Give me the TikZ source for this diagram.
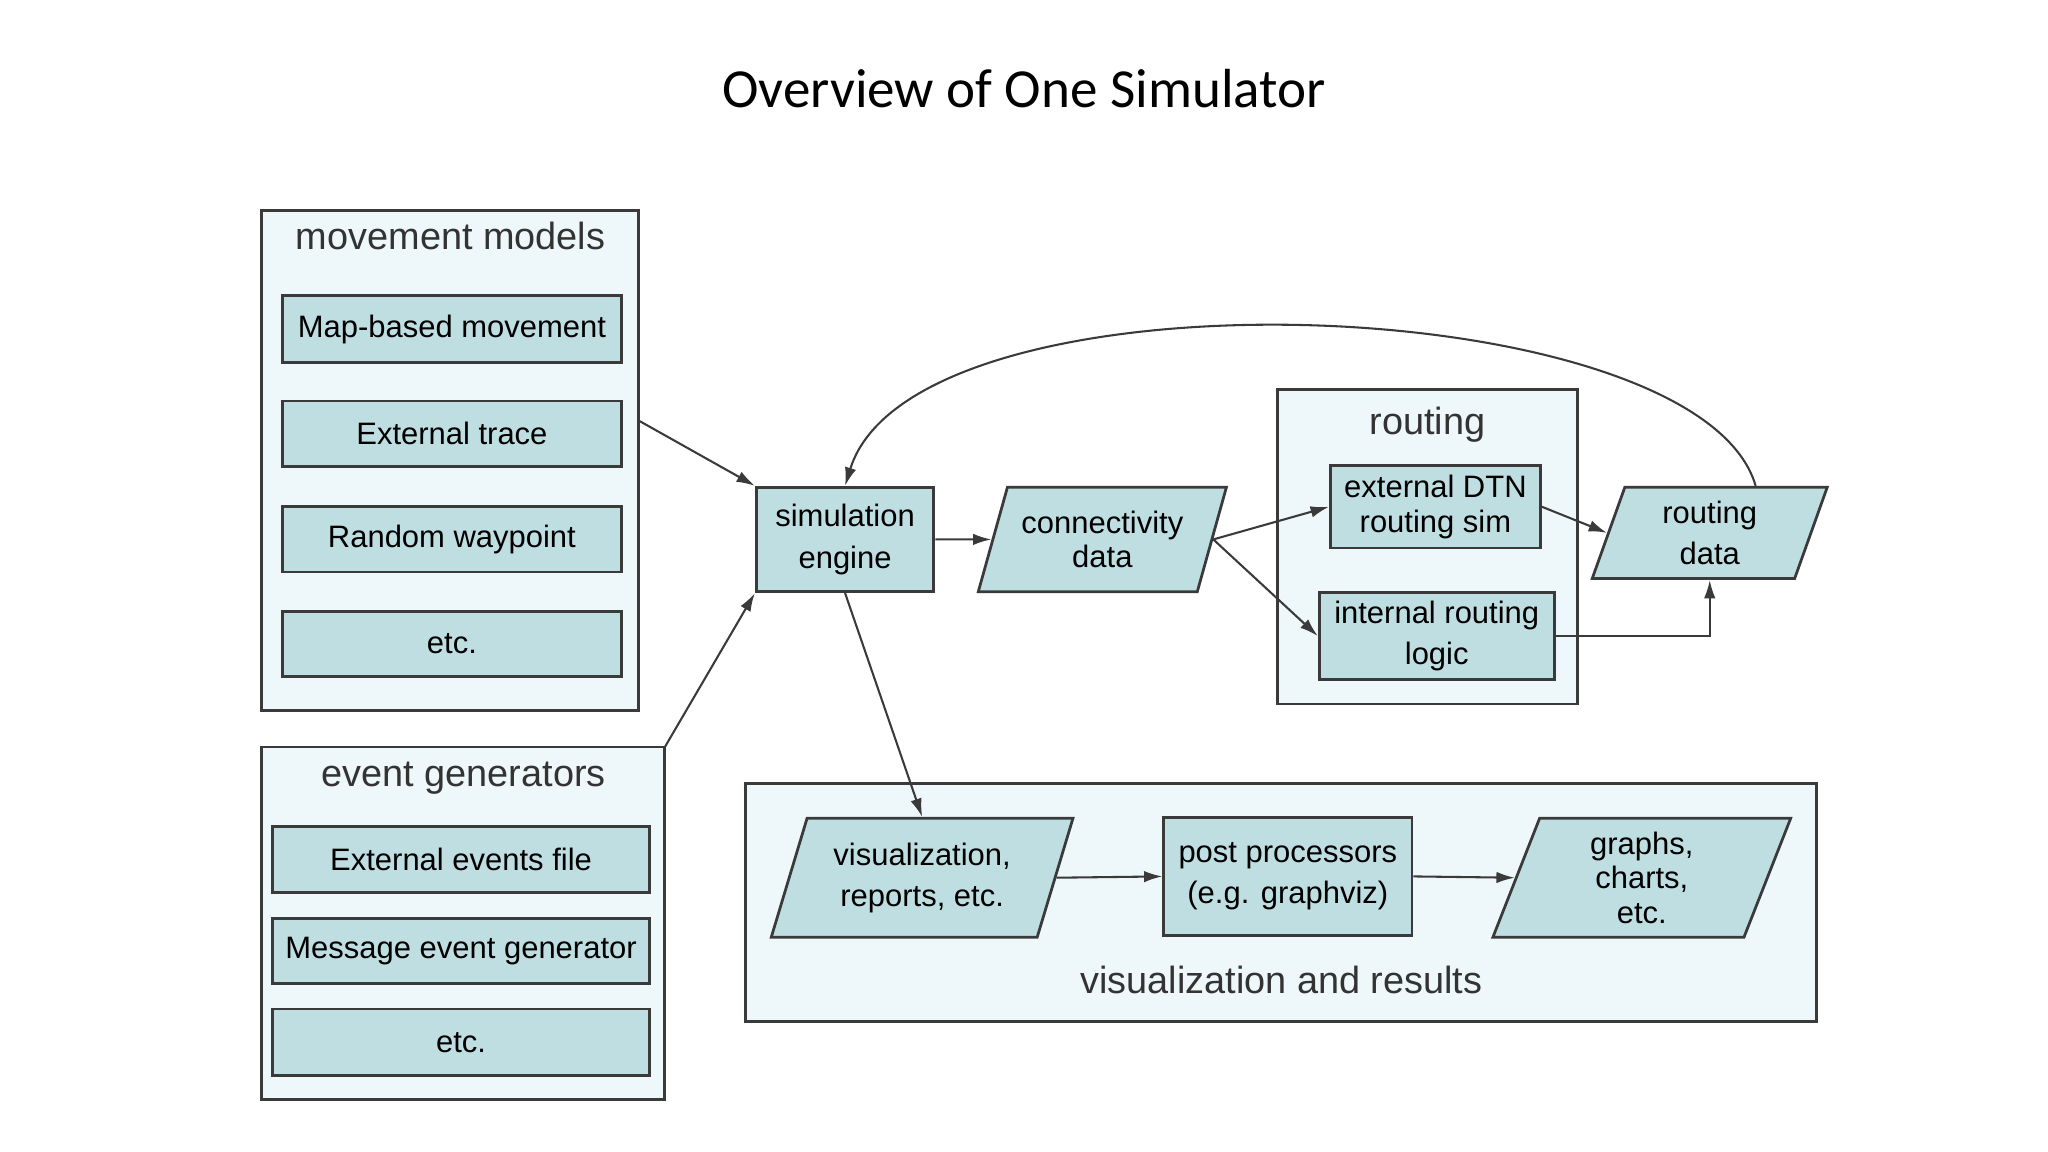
\documentclass[tikz,border=0pt]{standalone}
\usepackage{fontspec}
\setmainfont{Liberation Sans}
\newfontfamily\titlefont{Carlito}
\usetikzlibrary{shapes.geometric,arrows.meta}
\definecolor{boxfill}{HTML}{BFDEE2}
\definecolor{contfill}{HTML}{EEF7F9}
\definecolor{edgec}{HTML}{3A3A3A}
\begin{document}
\begin{tikzpicture}[x=0.02cm,y=-0.02cm,
  cont/.style={draw=edgec,line width=1.2pt,fill=contfill},
  box/.style={draw=edgec,line width=1.2pt,fill=boxfill,font=\fontsize{13.5}{15}\selectfont,align=center,inner sep=0pt},
  para/.style={trapezium,trapezium left angle=63,trapezium right angle=117,draw=edgec,line width=1.2pt,fill=boxfill,font=\fontsize{13.5}{15}\selectfont,align=center,inner sep=0pt,trapezium stretches body},
  head/.style={font=\fontsize{16.5}{18}\selectfont,text=black!80},
  arr/.style={-{Latex[length=8pt,width=5pt]},line width=0.9pt,draw=edgec}]
\useasboundingbox (0,0) rectangle (1568,882);
\node[font=\titlefont\fontsize{24}{28}\selectfont] (title) at (784,68) {Overview of One Simulator};
% movement models
\draw[cont] (200,161) rectangle (489,544);
\node[head] (mmh) at (345,181) {movement models};
\coordinate (mmR) at (489,322);
\node[box,minimum width=5.2cm,minimum height=1.02cm] (m1) at (346,252) {Map-based movement};
\node[box,minimum width=5.2cm,minimum height=1.0cm] (m2) at (346,332) {External trace};
\node[box,minimum width=5.2cm,minimum height=1.0cm] (m3) at (346,413) {Random waypoint};
\node[box,minimum width=5.2cm,minimum height=1.0cm] (m4) at (346,493) {etc.};
% event generators
\draw[cont] (200,572) rectangle (509,842);
\node[head] (egh) at (355,596) {event generators};
\coordinate (egR) at (509,572);
\node[box,minimum width=5.78cm,minimum height=1.02cm] (e1) at (353,658) {External events file};
\node[box,minimum width=5.78cm,minimum height=1.0cm] (e2) at (353,728) {Message event generator};
\node[box,minimum width=5.78cm,minimum height=1.02cm] (e3) at (353,798) {etc.};
% simulation engine
\node[box,minimum width=2.72cm,minimum height=1.6cm] (se) at (647,413) {simulation\\[3pt]engine};
\node[para,minimum width=3.8cm,minimum height=1.6cm] (cd) at (844,413) {connectivity\\data};
% routing
\draw[cont] (978,298) rectangle (1208,539);
\node[head] (rh) at (1093,325) {routing};
\node[box,minimum width=3.22cm,minimum height=1.26cm] (dtn) at (1099,388) {external DTN\\routing sim};
\node[box,minimum width=3.6cm,minimum height=1.34cm] (irl) at (1100,487) {internal routing\\[3pt]logic};
\node[para,minimum width=3.6cm,minimum height=1.4cm] (rd) at (1309,408) {routing\\[3pt]data};
% visualization and results
\draw[cont] (571,600) rectangle (1391,782);
\node[head] (vh) at (981,750) {visualization and results};
\node[para,minimum width=4.62cm,minimum height=1.82cm] (vis) at (706,672) {visualization,\\[3pt]reports, etc.};
\node[box,minimum width=3.8cm,minimum height=1.8cm] (pp) at (986,671) {post processors\\[3pt](e.g. graphviz)};
\node[para,minimum width=4.56cm,minimum height=1.82cm] (gc) at (1257,672) {graphs,\\charts,\\etc.};
% connectors
\draw[arr] (mmR) -- (se.north west);
\draw[arr] (egR) -- (se.south west);
\draw[arr] (se.east) -- (cd.west);
\draw[arr] (cd.east) -- (dtn.west);
\draw[arr] (cd.east) -- (irl.west);
\draw[arr] (dtn.east) -- (rd.west);
\draw[arr] (irl.east) -| (rd.south);
\draw[arr] ([xshift=20]rd.north) .. controls (1300,220) and (700,200) .. (se.north);
\draw[arr] (se.south) -- (vis.north);
\draw[arr] (vis.east) -- (pp.west);
\draw[arr] (pp.east) -- (gc.west);
\end{tikzpicture}
\end{document}
